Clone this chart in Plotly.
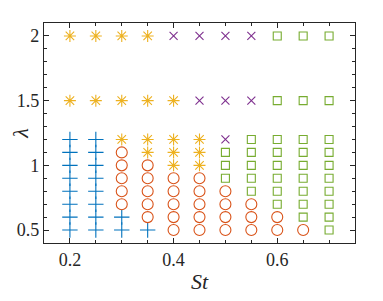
import plotly.graph_objects as go

st_values = [0.2, 0.25, 0.3, 0.35, 0.4, 0.45, 0.5, 0.55, 0.6, 0.65, 0.7]
lambda_values = [2.0, 1.5, 1.2, 1.1, 1.0, 0.9, 0.8, 0.7, 0.6, 0.5]
# regime per (lambda row, St column): P plus, O circle, A asterisk, X cross, S square
regime_rows = [
    "AAAAXXXXSSS",
    "AAAAAXXXSSS",
    "PPAAAAXSSSS",
    "PPOAAASSSSS",
    "PPOOAASSSSS",
    "PPOOOOSSSSS",
    "PPOOOOOSSSS",
    "PPOOOOOOSSS",
    "PPPOOOOOOSS",
    "PPPPOOOOOOS",
]
x_ticks = [0.2, 0.4, 0.6]
x_ticklabels = ["0.2", "0.4", "0.6"]
y_ticks = [0.5, 1.0, 1.5, 2.0]
y_ticklabels = ["0.5", "1", "1.5", "2"]

styles = {
    "P": dict(symbol="cross-thin-open", color="#0072BD", size=11),
    "O": dict(symbol="circle-open", color="#D95319", size=11),
    "A": dict(symbol="asterisk-open", color="#EDB120", size=10),
    "X": dict(symbol="x-thin-open", color="#7E2F8E", size=8),
    "S": dict(symbol="square-open", color="#77AC30", size=8),
}

fig = go.Figure()
for code, st in styles.items():
    xs, ys = [], []
    for lam, row in zip(lambda_values, regime_rows):
        for x, c in zip(st_values, row):
            if c == code:
                xs.append(x)
                ys.append(lam)
    fig.add_trace(go.Scatter(
        x=xs, y=ys, mode="markers", showlegend=False,
        marker=dict(symbol=st["symbol"], size=st["size"],
                    line=dict(color=st["color"], width=1.1), color=st["color"]),
    ))

axis_col = "#262626"
font_family = "Liberation Serif"
axis_common = dict(
    showgrid=False, zeroline=False, showline=True, linecolor=axis_col,
    linewidth=1.2, mirror="ticks", ticks="inside", ticklen=5, tickwidth=1,
    tickcolor=axis_col, tickfont=dict(family=font_family, size=18, color=axis_col),
    automargin=False,
)
fig.update_xaxes(range=[0.15, 0.75], tickvals=x_ticks, ticktext=x_ticklabels,
                 minor=dict(ticks="inside", dtick=0.05, tick0=0.15, ticklen=3, tickcolor=axis_col),
                 title=dict(text="<i>St</i>", font=dict(family=font_family, size=22, color=axis_col), standoff=4),
                 **axis_common)
fig.update_yaxes(range=[0.4, 2.1], tickvals=y_ticks, ticktext=y_ticklabels,
                 minor=dict(ticks="inside", dtick=0.1, tick0=0.4, ticklen=3, tickcolor=axis_col),
                 title=dict(text="<i>λ</i>", font=dict(family=font_family, size=22, color=axis_col), standoff=6),
                 **axis_common)
fig.update_layout(
    width=375, height=293, plot_bgcolor="white", paper_bgcolor="white",
    margin=dict(l=36, r=28, t=15, b=58),
)
fig.write_html("out.html")
